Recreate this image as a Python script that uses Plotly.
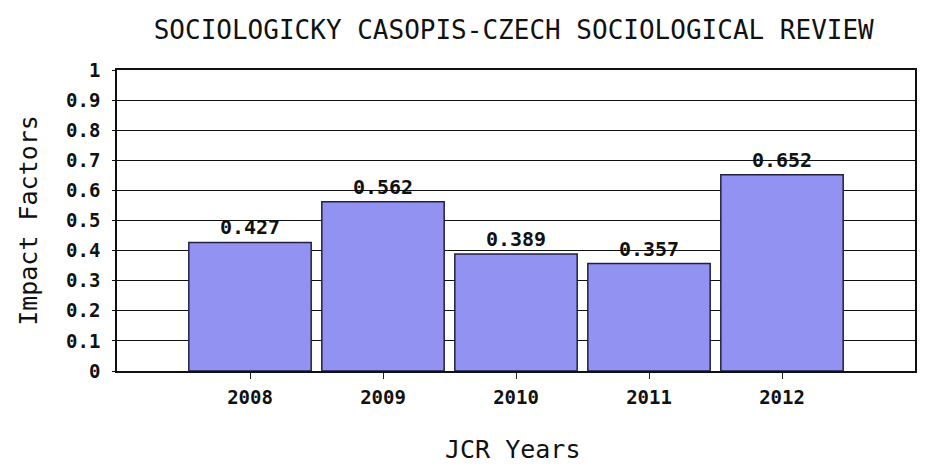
import plotly.graph_objects as go

years = ["2008", "2009", "2010", "2011", "2012"]
impact = [0.427, 0.562, 0.389, 0.357, 0.652]
labels = ["0.427", "0.562", "0.389", "0.357", "0.652"]
yticks = [0, 0.1, 0.2, 0.3, 0.4, 0.5, 0.6, 0.7, 0.8, 0.9, 1]
ytick_text = ["0", "0.1", "0.2", "0.3", "0.4", "0.5", "0.6", "0.7", "0.8", "0.9", "1"]
x_title = "JCR Years"
y_title = "Impact Factors"

font_mono = "DejaVu Sans Mono"

fig = go.Figure()
fig.add_trace(go.Bar(
    x=list(range(len(years))), y=impact,
    width=0.92,
    marker=dict(color="#9292f2", line=dict(color="#202040", width=1.5)),
    text=labels, textposition="outside",
    textfont=dict(family=font_mono, size=20, color="#111111", weight="bold"),
    cliponaxis=False,
))

fig.update_layout(
    width=929, height=467,
    margin=dict(l=117, r=14, t=70, b=96, autoexpand=False),
    paper_bgcolor="white", plot_bgcolor="white",
    showlegend=False,
    title=dict(text="SOCIOLOGICKY CASOPIS-CZECH SOCIOLOGICAL REVIEW",
               x=0.553, xanchor="center", y=0.936, yanchor="middle",
               font=dict(family=font_mono, size=26, color="#111111"),
               automargin=False),
    xaxis=dict(range=[-1, 5], tickmode="array",
               tickvals=list(range(len(years))), ticktext=years,
               tickfont=dict(family=font_mono, size=19, color="#111111", weight="bold"),
               ticks="outside", ticklen=6, tickcolor="#222222",
               ticklabelstandoff=2,
               showline=True, linecolor="#111111", linewidth=1.5, mirror=True,
               showgrid=False, zeroline=False, automargin=False),
    yaxis=dict(range=[0, 1], tickmode="array", tickvals=yticks, ticktext=ytick_text,
               tickfont=dict(family=font_mono, size=19, color="#111111", weight="bold"),
               ticks="outside", ticklen=3, tickcolor="#111111",
               ticklabelstandoff=8,
               showline=True, linecolor="#111111", linewidth=1.5, mirror=True,
               showgrid=True, gridcolor="#111111", gridwidth=1.2, zeroline=False,
               automargin=False,
               title=dict(text=y_title, font=dict(family=font_mono, size=25, color="#111111"),
                          standoff=21)),
    annotations=[dict(text=x_title, xref="paper", yref="paper", x=0.495, y=-0.262,
                      xanchor="center", yanchor="middle", showarrow=False,
                      font=dict(family=font_mono, size=25, color="#111111"))],
)

# remove the default 8px page margin so the figure fills the window exactly
fig.write_html("out.html",
               config={"displayModeBar": False},
               post_script="document.body.style.margin='0px'; document.body.style.overflow='hidden';")
